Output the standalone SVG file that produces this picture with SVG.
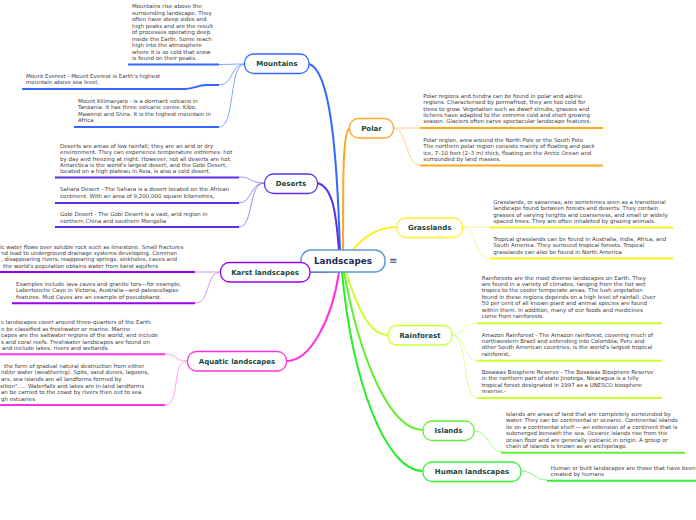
<svg xmlns="http://www.w3.org/2000/svg" width="696" height="520" viewBox="0 0 696 520">
<style>
.leaf{font-family:"DejaVu Sans","Verdana",sans-serif;font-size:5.5px;fill:#404040}
.lbl{font-family:"DejaVu Sans","Verdana",sans-serif;font-size:7px;font-weight:bold;fill:#17463a;text-anchor:middle}
.node{fill:#fff;stroke-width:1.3}
.br{fill:none;stroke-width:2;stroke-linecap:round}
.tw{fill:none;stroke-width:0.9}
.ul{fill:none;stroke-width:2}
</style>
<rect width="696" height="520" fill="#fff"/>
<g id="connectors">
  <path class="br" stroke="#3366ff" d="M340,251 C337,150 330,70 309,64"/>
  <path class="br" stroke="#5a2ee8" d="M339,251 C336,210 332,186 317,183"/>
  <path class="br" stroke="#ffa622" d="M343,251 C343,170 343,130 350,128"/>
  <path class="br" stroke="#ffee22" d="M352,251 C365,235 380,227 397,227"/>
  <path class="br" stroke="#9900ee" d="M340,271 C330,272 320,272 310,272"/>
  <path class="br" stroke="#ff33dd" d="M339,272 C332,320 310,361 287,361"/>
  <path class="br" stroke="#ccff33" d="M346,272 C358,310 370,335 388,335"/>
  <path class="br" stroke="#66ee33" d="M344,272 C360,360 390,430 423,430"/>
  <path class="br" stroke="#22ee22" d="M342,272 C352,380 385,471 423,471"/>
  <path class="tw" stroke="#7799ff" d="M245,64 C232,64 232,64.5 219,64.5"/>
  <path class="tw" stroke="#7799ff" d="M245,64 C230,64 234,85 219,85"/>
  <path class="tw" stroke="#7799ff" d="M245,64 C228,64 236,127 219,127"/>
  <path class="tw" stroke="#9a7cf0" d="M264,183 C250,183 252,177 239,177"/>
  <path class="tw" stroke="#9a7cf0" d="M264,183 C250,183 252,203 239,203"/>
  <path class="tw" stroke="#9a7cf0" d="M264,183 C248,183 254,227 239,227"/>
  <path class="tw" stroke="#cc88f0" d="M221,272 C208,272 208,272 195,272"/>
  <path class="tw" stroke="#cc88f0" d="M221,272 C205,272 211,303 195,303"/>
  <path class="tw" stroke="#ff99ee" d="M187,361 C174,361 178,354 165,354"/>
  <path class="tw" stroke="#ff99ee" d="M187,361 C171,361 181,405 165,405"/>
  <path class="tw" stroke="#ffcc77" d="M393,128 C406,128 407,128 420,128"/>
  <path class="tw" stroke="#ffcc77" d="M393,128 C408,128 405,165 420,165"/>
  <path class="tw" stroke="#ffee88" d="M462,227 C476,227 476,227 490,227"/>
  <path class="tw" stroke="#ffee88" d="M462,227 C478,227 474,259 490,259"/>
  <path class="tw" stroke="#ddff88" d="M452,335 C465,335 464,323 477,323"/>
  <path class="tw" stroke="#ddff88" d="M452,335 C466,335 464,361 477,361"/>
  <path class="tw" stroke="#ddff88" d="M452,335 C468,335 462,398 477,398"/>
  <path class="tw" stroke="#99ff77" d="M474,431 C490,431 488,452 502,452"/>
  <path class="tw" stroke="#77ee77" d="M521,471 C534,471 534,480 547,480"/>
</g>

<g id="center">
  <rect x="301" y="250" width="84" height="22" rx="10" fill="#fff" stroke="#5b9bd5" stroke-width="1.5"/>
  <text x="343" y="264.3" style="font-family:'DejaVu Sans',sans-serif;font-size:8.8px;font-weight:bold;fill:#1c2b5a" text-anchor="middle">Landscapes</text>
  <text x="389" y="264" style="font-family:'DejaVu Sans',sans-serif;font-size:10px;fill:#3a4f7a">≡</text>
</g>

<g id="mountains">
  <rect class="node" x="244.5" y="54" width="64.5" height="19.5" rx="9" stroke="#3366ff"/>
  <text class="lbl" x="277" y="66.3">Mountains</text>
</g>
<g id="mountains-1">
  <text class="leaf"><tspan x="132" y="8">Mountains rise above the</tspan><tspan x="132" y="14.5">surrounding landscape. They</tspan><tspan x="132" y="21">often have steep sides and</tspan><tspan x="132" y="27.5">high peaks and are the result</tspan><tspan x="132" y="34">of processes operating deep</tspan><tspan x="132" y="40.5">inside the Earth. Some reach</tspan><tspan x="132" y="47">high into the atmosphere</tspan><tspan x="132" y="53.5">where it is so cold that snow</tspan><tspan x="132" y="60">is found on their peaks.</tspan></text>
  <path class="ul" stroke="#3366ff" d="M128,64.5 H219"/>
</g>
<g id="mountains-2">
  <text class="leaf"><tspan x="26" y="77.5">Mount Everest - Mount Everest is Earth's highest</tspan><tspan x="26" y="84">mountain above sea level,</tspan></text>
  <path class="ul" stroke="#3366ff" d="M22,89 H185 C194,89 198,85 206,85 H219"/>
</g>
<g id="mountains-3">
  <text class="leaf"><tspan x="78" y="103">Mount Kilimanjaro - is a dormant volcano in</tspan><tspan x="78" y="109.4">Tanzania. It has three volcanic cones: Kibo,</tspan><tspan x="78" y="115.8">Mawenzi and Shira. It is the highest mountain in</tspan><tspan x="78" y="122.2">Africa</tspan></text>
  <path class="ul" stroke="#3366ff" d="M74,127 H219"/>
</g>

<g id="deserts">
  <rect class="node" x="264.5" y="174" width="53" height="19.5" rx="9" stroke="#5a2ee8"/>
  <text class="lbl" x="291" y="186.3">Deserts</text>
</g>
<g id="deserts-1">
  <text class="leaf"><tspan x="60" y="147.8">Deserts are areas of low rainfall; they are an arid or dry</tspan><tspan x="60" y="154.2">environment. They can experience temperature extremes: hot</tspan><tspan x="60" y="160.6">by day and freezing at night. However, not all deserts are hot.</tspan><tspan x="60" y="167">Antarctica is the world's largest desert, and the Gobi Desert,</tspan><tspan x="60" y="173.4">located on a high plateau in Asia, is also a cold desert.</tspan></text>
  <path class="ul" stroke="#5a2ee8" d="M55,177.5 H239"/>
</g>
<g id="deserts-2">
  <text class="leaf"><tspan x="60" y="191">Sahara Desert - The Sahara is a desert located on the African</tspan><tspan x="60" y="197.6">continent. With an area of 9,200,000 square kilometres,</tspan></text>
  <path class="ul" stroke="#5a2ee8" d="M55,203 H239"/>
</g>
<g id="deserts-3">
  <text class="leaf"><tspan x="60" y="216">Gobi Desert - The Gobi Desert is a vast, arid region in</tspan><tspan x="60" y="222.6">northern China and southern Mongolia</tspan></text>
  <path class="ul" stroke="#5a2ee8" d="M55,227 H239"/>
</g>

<g id="karst">
  <rect class="node" x="220.5" y="262.5" width="89.5" height="19.5" rx="9" stroke="#9900ee"/>
  <text class="lbl" x="265" y="274.8">Karst landscapes</text>
</g>
<g id="karst-1">
  <text class="leaf"><tspan x="0" y="248.5">ic water flows over soluble rock such as limestone. Small fractures</tspan><tspan x="1" y="255">nd lead to underground drainage systems developing. Common</tspan><tspan x="1" y="261.3">, disappearing rivers, reappearing springs, sinkholes, caves and</tspan><tspan x="3" y="267.6">the world's population obtains water from karst aquifers</tspan></text>
  <path class="ul" stroke="#9900ee" d="M0,272 H195"/>
</g>
<g id="karst-2">
  <text class="leaf"><tspan x="16" y="286">Examples include lava caves and granite tors—for example,</tspan><tspan x="16" y="292.4">Labertouche Cave in Victoria, Australia—and paleocollapse</tspan><tspan x="16" y="298.8">features. Mud Caves are an example of pseudokarst.</tspan></text>
  <path class="ul" stroke="#9900ee" d="M12,303.3 H195"/>
</g>

<g id="aquatic">
  <rect class="node" x="187.5" y="351.5" width="99" height="19.5" rx="9" stroke="#ff33dd"/>
  <text class="lbl" x="237" y="363.8">Aquatic landscapes</text>
</g>
<g id="aquatic-1">
  <text class="leaf"><tspan x="1" y="324">c landscapes cover around three-quarters of the Earth</tspan><tspan x="1" y="330.5">n be classified as freshwater or marine. Marine</tspan><tspan x="1" y="337">capes are the saltwater regions of the world, and include</tspan><tspan x="1" y="343.5">s and coral reefs. Freshwater landscapes are found on</tspan><tspan x="2" y="350">and include lakes, rivers and wetlands.</tspan></text>
  <path class="ul" stroke="#ff33dd" d="M0,354.3 H165"/>
</g>
<g id="aquatic-2">
  <text class="leaf"><tspan x="4" y="367.5">the form of gradual natural destruction from either</tspan><tspan x="1" y="374.2">nd/or water (weathering). Spits, sand dunes, lagoons,</tspan><tspan x="1" y="380.9">ars, sea islands are all landforms formed by</tspan><tspan x="0" y="387.6">sition". ... Waterfalls and lakes are in-land landforms</tspan><tspan x="1" y="394.3">an be carried to the coast by rivers then out to sea</tspan><tspan x="1" y="401">gh estuaries</tspan></text>
  <path class="ul" stroke="#ff33dd" d="M0,405 H165"/>
</g>

<g id="polar">
  <rect class="node" x="349.5" y="118.5" width="44" height="19.5" rx="9" stroke="#ffa622"/>
  <text class="lbl" x="371.5" y="130.8">Polar</text>
</g>
<g id="polar-1">
  <text class="leaf"><tspan x="423.3" y="97.8">Polar regions and tundra can be found in polar and alpine</tspan><tspan x="423.3" y="104.2">regions. Characterised by permafrost, they are too cold for</tspan><tspan x="423.3" y="110.6">trees to grow. Vegetation such as dwarf shrubs, grasses and</tspan><tspan x="423.3" y="117">lichens have adapted to the extreme cold and short growing</tspan><tspan x="423.3" y="123.4">season. Glaciers often carve spectacular landscape features.</tspan></text>
  <path class="ul" stroke="#ffa622" d="M420,128 H603"/>
</g>
<g id="polar-2">
  <text class="leaf"><tspan x="423.3" y="141.8">Polar region, area around the North Pole or the South Pole.</tspan><tspan x="423.3" y="148.2">The northern polar region consists mainly of floating and pack</tspan><tspan x="423.3" y="154.6">ice, 7–10 feet (2–3 m) thick, floating on the Arctic Ocean and</tspan><tspan x="423.3" y="161">surrounded by land masses.</tspan></text>
  <path class="ul" stroke="#ffa622" d="M420,165.5 H603"/>
</g>

<g id="grasslands">
  <rect class="node" x="397" y="218" width="65.5" height="19.5" rx="9" stroke="#ffee22"/>
  <text class="lbl" x="429.7" y="230.3">Grasslands</text>
</g>
<g id="grasslands-1">
  <text class="leaf"><tspan x="493.3" y="203.8">Grasslands, or savannas, are sometimes seen as a transitional</tspan><tspan x="493.3" y="210.2">landscape found between forests and deserts. They contain</tspan><tspan x="493.3" y="216.6">grasses of varying heights and coarseness, and small or widely</tspan><tspan x="493.3" y="223">spaced trees. They are often inhabited by grazing animals.</tspan></text>
  <path class="ul" stroke="#ffee22" d="M490,227.5 H673"/>
</g>
<g id="grasslands-2">
  <text class="leaf"><tspan x="493.3" y="240.5">Tropical grasslands can be found in Australia, India, Africa, and</tspan><tspan x="493.3" y="247.2">South America. They surround tropical forests. Tropical</tspan><tspan x="493.3" y="253.9">grasslands can also be found in North America</tspan></text>
  <path class="ul" stroke="#ffee22" d="M490,258.5 H673"/>
</g>

<g id="rainforest">
  <rect class="node" x="388" y="325.5" width="64" height="19.5" rx="9" stroke="#ccff33"/>
  <text class="lbl" x="420" y="337.8">Rainforest</text>
</g>
<g id="rainforest-1">
  <text class="leaf"><tspan x="481.7" y="279.5">Rainforests are the most diverse landscapes on Earth. They</tspan><tspan x="481.7" y="285.9">are found in a variety of climates, ranging from the hot wet</tspan><tspan x="481.7" y="292.3">tropics to the cooler temperate areas. The lush vegetation</tspan><tspan x="481.7" y="298.7">found in these regions depends on a high level of rainfall. Over</tspan><tspan x="481.7" y="305.1">50 per cent of all known plant and animal species are found</tspan><tspan x="481.7" y="311.5">within them. In addition, many of our foods and medicines</tspan><tspan x="481.7" y="317.9">come from rainforests.</tspan></text>
  <path class="ul" stroke="#ccff33" d="M477,323.3 H662"/>
</g>
<g id="rainforest-2">
  <text class="leaf"><tspan x="481.7" y="336.8">Amazon Rainforest - The Amazon rainforest, covering much of</tspan><tspan x="481.7" y="343.1">northwestern Brazil and extending into Colombia, Peru and</tspan><tspan x="481.7" y="349.4">other South American countries, is the world's largest tropical</tspan><tspan x="481.7" y="355.7">rainforest,</tspan></text>
  <path class="ul" stroke="#ccff33" d="M477,360.7 H662"/>
</g>
<g id="rainforest-3">
  <text class="leaf"><tspan x="481.7" y="374">Bosawas Biosphere Reserve - The Bosawás Biosphere Reserve</tspan><tspan x="481.7" y="380.4">in the northern part of state Jinotega, Nicaragua is a hilly</tspan><tspan x="481.7" y="386.8">tropical forest designated in 1997 as a UNESCO biosphere</tspan><tspan x="481.7" y="393.2">reserve.-</tspan></text>
  <path class="ul" stroke="#ccff33" d="M477,398 H662"/>
</g>

<g id="islands">
  <rect class="node" x="423" y="421" width="51" height="19.5" rx="9" stroke="#66ee33"/>
  <text class="lbl" x="448.5" y="433.3">Islands</text>
</g>
<g id="islands-1">
  <text class="leaf"><tspan x="506" y="416">Islands are areas of land that are completely surrounded by</tspan><tspan x="506" y="422.4">water. They can be continental or oceanic. Continental islands</tspan><tspan x="506" y="428.8">lie on a continental shelf — an extension of a continent that is</tspan><tspan x="506" y="435.2">submerged beneath the sea. Oceanic islands rise from the</tspan><tspan x="506" y="441.6">ocean floor and are generally volcanic in origin. A group or</tspan><tspan x="506" y="448">chain of islands is known as an archipelago.</tspan></text>
  <path class="ul" stroke="#66ee33" d="M501,452.7 H685"/>
</g>

<g id="human">
  <rect class="node" x="423" y="462" width="98" height="19.5" rx="9" stroke="#33ee33"/>
  <text class="lbl" x="472" y="474.3">Human landscapes</text>
</g>
<g id="human-1">
  <text class="leaf"><tspan x="550.7" y="469.8">Human or built landscapes are those that have been</tspan><tspan x="550.7" y="476.2">created by humans</tspan></text>
  <path class="ul" stroke="#33ee33" d="M547,480.7 H696"/>
</g>
</svg>
